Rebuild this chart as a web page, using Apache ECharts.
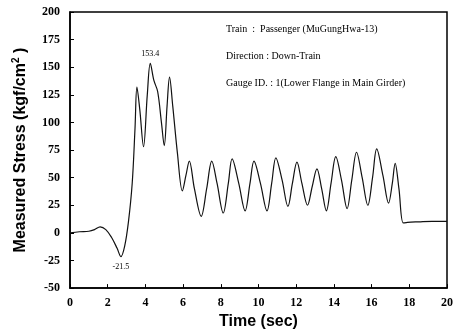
<!DOCTYPE html>
<html>
<head>
<meta charset="utf-8">
<script src="https://cdn.jsdelivr.net/npm/echarts@6/dist/echarts.min.js"></script>
<style>
html, body { margin: 0; padding: 0; background: #fff; }
#chart { width: 456px; height: 335px; }
</style>
</head>
<body>
<div id="chart"></div>
<script>
// time (sec) and stress (kgf/cm2)
var timeSec = [0, 0.5, 1.0, 1.3, 1.6, 1.9, 2.2, 2.5, 2.7, 2.9, 3.1, 3.3, 3.45, 3.55, 3.7, 3.9,
    4.1, 4.26, 4.45, 4.65, 4.85, 5.0, 5.15, 5.28, 5.45, 5.7, 5.96, 6.15, 6.33, 6.6, 6.96,
    7.25, 7.52, 7.8, 8.13, 8.4, 8.6, 8.95, 9.29, 9.55, 9.76, 10.1, 10.45, 10.7, 10.92,
    11.25, 11.56, 11.8, 12.04, 12.3, 12.6, 12.85, 13.1, 13.35, 13.6, 13.85, 14.1, 14.4,
    14.7, 14.95, 15.2, 15.5, 15.8, 16.05, 16.27, 16.6, 16.9, 17.1, 17.25, 17.45, 17.68,
    17.9, 18.5, 19.2, 20];
var stress = [0, 1, 1.5, 3, 5.5, 3, -4, -14, -21.5, -12, 10, 45, 95, 132, 112, 78,
    125, 153.4, 138, 128, 100, 79, 115, 141, 115, 72, 38, 52, 65, 40, 15,
    40, 65, 45, 18, 45, 67, 45, 20, 45, 65, 45, 20, 45, 68,
    48, 24, 45, 64, 45, 25, 42, 58, 40, 20, 45, 69, 48,
    22, 48, 73, 50, 25, 50, 76, 52, 27, 45, 63, 40, 9,
    9.5, 10, 10.5, 10.5];
var xTicks = [0, 2, 4, 6, 8, 10, 12, 14, 16, 18, 20];
var yTicks = [-50, -25, 0, 25, 50, 75, 100, 125, 150, 175, 200];
var infoLines = [
    'Train  :  Passenger (MuGungHwa-13)',
    'Direction : Down-Train',
    'Gauge ID. : 1(Lower Flange in Main Girder)'
];

var pts = [];
for (var i = 0; i < timeSec.length; i++) {
    pts.push([timeSec[i], stress[i]]);
}

var serif = '"Liberation Serif", "DejaVu Serif", serif';
var sans = '"Liberation Sans", Arial, sans-serif';

var chart = echarts.init(document.getElementById('chart'));
chart.setOption({
    animation: false,
    backgroundColor: '#fff',
    grid: {
        left: 70, right: 7, top: 12, bottom: 45,
        show: true, borderColor: '#000', borderWidth: 1.5
    },
    xAxis: {
        type: 'value',
        min: xTicks[0], max: xTicks[xTicks.length - 1], interval: 2,
        name: 'Time (sec)',
        nameLocation: 'middle',
        nameGap: 23,
        nameTextStyle: { fontFamily: sans, fontWeight: 'bold', fontSize: 16, color: '#000' },
        axisLine: { onZero: false, lineStyle: { color: '#000', width: 1.5 } },
        axisTick: { inside: true, length: 4, lineStyle: { color: '#000' } },
        axisLabel: { fontFamily: serif, fontWeight: 'bold', fontSize: 12, color: '#000', margin: 9 },
        splitLine: { show: false }
    },
    yAxis: {
        type: 'value',
        min: yTicks[0], max: yTicks[yTicks.length - 1], interval: 25,
        name: '{a|Measured Stress (kgf/cm}{s|2}{a| )}',
        nameLocation: 'middle',
        nameGap: 40,
        nameTextStyle: {
            rich: {
                a: { fontFamily: sans, fontWeight: 'bold', fontSize: 16, color: '#000' },
                s: { fontFamily: sans, fontWeight: 'bold', fontSize: 10, color: '#000', verticalAlign: 'top', padding: [0, 0, 9, 0] }
            }
        },
        axisLine: { onZero: false, lineStyle: { color: '#000', width: 1.5 } },
        axisTick: { inside: true, length: 4, lineStyle: { color: '#000' } },
        axisLabel: { fontFamily: serif, fontWeight: 'bold', fontSize: 12, color: '#000', margin: 10 },
        splitLine: { show: false }
    },
    series: [{
        type: 'line',
        data: pts,
        smooth: 0.35,
        showSymbol: false,
        lineStyle: { color: '#111', width: 1.2 },
        markPoint: {
            symbol: 'circle', symbolSize: 0,
            label: { show: true, color: '#000', fontFamily: serif, fontSize: 8, position: 'top', distance: 6 },
            data: [
                { coord: [4.26, 153.4], value: '153.4' },
                { coord: [2.7, -21.5], value: '-21.5', label: { position: 'bottom', distance: 6 } }
            ]
        }
    }],
    graphic: infoLines.map(function (t, k) {
        return {
            type: 'text', left: 226, top: 24 + k * 27,
            style: { text: t, fontFamily: serif, fontSize: 10, fill: '#000' }
        };
    })
});
</script>
</body>
</html>
